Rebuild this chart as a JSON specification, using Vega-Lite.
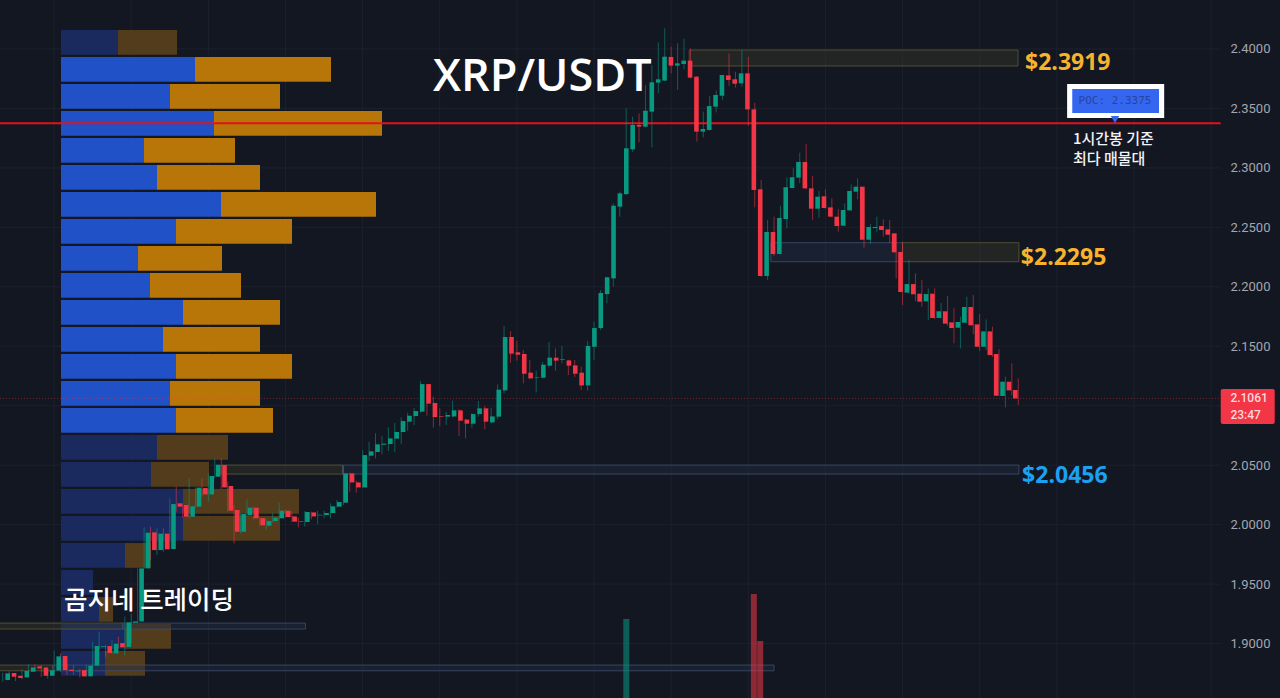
{
  "$schema": "https://vega.github.io/schema/vega-lite/v6.json",
  "description": "XRP/USDT hourly candles with volume profile",
  "width": 1280,
  "height": 698,
  "padding": 0,
  "autosize": {"type": "none"},
  "background": "#131722",
  "config": {"view": {"stroke": null}},
  "datasets": {
    "candles": [
      {"t":0,"o":1.8693,"h":1.8755,"l":1.8679,"c":1.8749},
      {"t":1,"o":1.8752,"h":1.8766,"l":1.8693,"c":1.8721},
      {"t":2,"o":1.8729,"h":1.8743,"l":1.8685,"c":1.8710},
      {"t":3,"o":1.8715,"h":1.8783,"l":1.8699,"c":1.8769},
      {"t":4,"o":1.8763,"h":1.8827,"l":1.8749,"c":1.8799},
      {"t":5,"o":1.8808,"h":1.8825,"l":1.8771,"c":1.8791},
      {"t":6,"o":1.8799,"h":1.8819,"l":1.8721,"c":1.8729},
      {"t":7,"o":1.8729,"h":1.8783,"l":1.8704,"c":1.8774},
      {"t":8,"o":1.8774,"h":1.8940,"l":1.8766,"c":1.8892},
      {"t":9,"o":1.8895,"h":1.8917,"l":1.8763,"c":1.8777},
      {"t":10,"o":1.8780,"h":1.8833,"l":1.8735,"c":1.8769},
      {"t":11,"o":1.8766,"h":1.8822,"l":1.8735,"c":1.8771},
      {"t":12,"o":1.8777,"h":1.8788,"l":1.8715,"c":1.8724},
      {"t":13,"o":1.8724,"h":1.8822,"l":1.8721,"c":1.8814},
      {"t":14,"o":1.8814,"h":1.9015,"l":1.8811,"c":1.8979},
      {"t":15,"o":1.8973,"h":1.9100,"l":1.8945,"c":1.8979},
      {"t":16,"o":1.8979,"h":1.8987,"l":1.8889,"c":1.8920},
      {"t":17,"o":1.8917,"h":1.9029,"l":1.8912,"c":1.8999},
      {"t":18,"o":1.9004,"h":1.9057,"l":1.8959,"c":1.8968},
      {"t":19,"o":1.8971,"h":1.9226,"l":1.8900,"c":1.9178},
      {"t":20,"o":1.9175,"h":1.9254,"l":1.9001,"c":1.9186},
      {"t":21,"o":1.9186,"h":1.9632,"l":1.9170,"c":1.9632},
      {"t":22,"o":1.9632,"h":1.9977,"l":1.9626,"c":1.9932},
      {"t":23,"o":1.9935,"h":1.9983,"l":1.9702,"c":1.9786},
      {"t":24,"o":1.9786,"h":1.9969,"l":1.9744,"c":1.9924},
      {"t":25,"o":1.9924,"h":1.9969,"l":1.9772,"c":1.9792},
      {"t":26,"o":1.9795,"h":2.0221,"l":1.9792,"c":2.0173},
      {"t":27,"o":2.0179,"h":2.0319,"l":2.0109,"c":2.0151},
      {"t":28,"o":2.0165,"h":2.0179,"l":2.0061,"c":2.0067},
      {"t":29,"o":2.0067,"h":2.0389,"l":2.0053,"c":2.0154},
      {"t":30,"o":2.0151,"h":2.0313,"l":2.0145,"c":2.0311},
      {"t":31,"o":2.0308,"h":2.0389,"l":2.0235,"c":2.0254},
      {"t":32,"o":2.0254,"h":2.0431,"l":2.0193,"c":2.0409},
      {"t":33,"o":2.0403,"h":2.0557,"l":2.0389,"c":2.0504},
      {"t":34,"o":2.0501,"h":2.0557,"l":2.0297,"c":2.0313},
      {"t":35,"o":2.0325,"h":2.0361,"l":2.0109,"c":2.0117},
      {"t":36,"o":2.0123,"h":2.0165,"l":1.9842,"c":1.9940},
      {"t":37,"o":1.9940,"h":2.0095,"l":1.9926,"c":2.0089},
      {"t":38,"o":2.0078,"h":2.0212,"l":2.0067,"c":2.0142},
      {"t":39,"o":2.0142,"h":2.0151,"l":2.0044,"c":2.0053},
      {"t":40,"o":2.0055,"h":2.0061,"l":1.9988,"c":1.9994},
      {"t":41,"o":1.9991,"h":2.0053,"l":1.9955,"c":2.0030},
      {"t":42,"o":2.0030,"h":2.0100,"l":2.0019,"c":2.0058},
      {"t":43,"o":2.0053,"h":2.0187,"l":2.0047,"c":2.0117},
      {"t":44,"o":2.0117,"h":2.0128,"l":2.0058,"c":2.0064},
      {"t":45,"o":2.0069,"h":2.0109,"l":2.0019,"c":2.0025},
      {"t":46,"o":2.0030,"h":2.0061,"l":1.9977,"c":2.0025},
      {"t":47,"o":2.0022,"h":2.0114,"l":1.9983,"c":2.0106},
      {"t":48,"o":2.0103,"h":2.0109,"l":2.0044,"c":2.0069},
      {"t":49,"o":2.0078,"h":2.0117,"l":2.0002,"c":2.0083},
      {"t":50,"o":2.0081,"h":2.0117,"l":2.0053,"c":2.0098},
      {"t":51,"o":2.0098,"h":2.0179,"l":2.0053,"c":2.0154},
      {"t":52,"o":2.0151,"h":2.0207,"l":2.0145,"c":2.0190},
      {"t":53,"o":2.0184,"h":2.0496,"l":2.0165,"c":2.0431},
      {"t":54,"o":2.0431,"h":2.0437,"l":2.0277,"c":2.0355},
      {"t":55,"o":2.0355,"h":2.0369,"l":2.0268,"c":2.0313},
      {"t":56,"o":2.0313,"h":2.0627,"l":2.0311,"c":2.0585},
      {"t":57,"o":2.0580,"h":2.0697,"l":2.0535,"c":2.0616},
      {"t":58,"o":2.0611,"h":2.0768,"l":2.0557,"c":2.0675},
      {"t":59,"o":2.0672,"h":2.0745,"l":2.0591,"c":2.0681},
      {"t":60,"o":2.0678,"h":2.0818,"l":2.0619,"c":2.0725},
      {"t":61,"o":2.0723,"h":2.0857,"l":2.0608,"c":2.0779},
      {"t":62,"o":2.0779,"h":2.0902,"l":2.0678,"c":2.0871},
      {"t":63,"o":2.0866,"h":2.0941,"l":2.0790,"c":2.0916},
      {"t":64,"o":2.0913,"h":2.0981,"l":2.0838,"c":2.0955},
      {"t":65,"o":2.0950,"h":2.1208,"l":2.0941,"c":2.1182},
      {"t":66,"o":2.1182,"h":2.1182,"l":2.0916,"c":2.1017},
      {"t":67,"o":2.1023,"h":2.1076,"l":2.0815,"c":2.0905},
      {"t":68,"o":2.0913,"h":2.0978,"l":2.0829,"c":2.0908},
      {"t":69,"o":2.0908,"h":2.0950,"l":2.0838,"c":2.0922},
      {"t":70,"o":2.0910,"h":2.1042,"l":2.0902,"c":2.0961},
      {"t":71,"o":2.0961,"h":2.0969,"l":2.0745,"c":2.0874},
      {"t":72,"o":2.0883,"h":2.0888,"l":2.0725,"c":2.0849},
      {"t":73,"o":2.0849,"h":2.0936,"l":2.0815,"c":2.0930},
      {"t":74,"o":2.0930,"h":2.1040,"l":2.0908,"c":2.0978},
      {"t":75,"o":2.0978,"h":2.0997,"l":2.0801,"c":2.0866},
      {"t":76,"o":2.0860,"h":2.0983,"l":2.0852,"c":2.0910},
      {"t":77,"o":2.0908,"h":2.1180,"l":2.0885,"c":2.1135},
      {"t":78,"o":2.1129,"h":2.1670,"l":2.1104,"c":2.1578},
      {"t":79,"o":2.1578,"h":2.1628,"l":2.1362,"c":2.1438},
      {"t":80,"o":2.1449,"h":2.1547,"l":2.1379,"c":2.1429},
      {"t":81,"o":2.1435,"h":2.1468,"l":2.1188,"c":2.1269},
      {"t":82,"o":2.1278,"h":2.1384,"l":2.1227,"c":2.1230},
      {"t":83,"o":2.1236,"h":2.1295,"l":2.1112,"c":2.1241},
      {"t":84,"o":2.1236,"h":2.1370,"l":2.1230,"c":2.1345},
      {"t":85,"o":2.1337,"h":2.1536,"l":2.1323,"c":2.1404},
      {"t":86,"o":2.1404,"h":2.1482,"l":2.1295,"c":2.1379},
      {"t":87,"o":2.1387,"h":2.1502,"l":2.1356,"c":2.1393},
      {"t":88,"o":2.1381,"h":2.1387,"l":2.1258,"c":2.1337},
      {"t":89,"o":2.1339,"h":2.1384,"l":2.1241,"c":2.1269},
      {"t":90,"o":2.1278,"h":2.1328,"l":2.1132,"c":2.1171},
      {"t":91,"o":2.1171,"h":2.1544,"l":2.1126,"c":2.1502},
      {"t":92,"o":2.1496,"h":2.1707,"l":2.1384,"c":2.1653},
      {"t":93,"o":2.1653,"h":2.1973,"l":2.1637,"c":2.1948},
      {"t":94,"o":2.1939,"h":2.2085,"l":2.1861,"c":2.2080},
      {"t":95,"o":2.2071,"h":2.2702,"l":2.2001,"c":2.2682},
      {"t":96,"o":2.2674,"h":2.2800,"l":2.2590,"c":2.2786},
      {"t":97,"o":2.2780,"h":2.3501,"l":2.2772,"c":2.3165},
      {"t":98,"o":2.3156,"h":2.3431,"l":2.3136,"c":2.3361},
      {"t":99,"o":2.3361,"h":2.3459,"l":2.3215,"c":2.3347},
      {"t":100,"o":2.3347,"h":2.3697,"l":2.3341,"c":2.3481},
      {"t":101,"o":2.3473,"h":2.3865,"l":2.3173,"c":2.3720},
      {"t":102,"o":2.3717,"h":2.4056,"l":2.3627,"c":2.3745},
      {"t":103,"o":2.3734,"h":2.4174,"l":2.3731,"c":2.3935},
      {"t":104,"o":2.3933,"h":2.4020,"l":2.3795,"c":2.3860},
      {"t":105,"o":2.3860,"h":2.4048,"l":2.3655,"c":2.3879},
      {"t":106,"o":2.3874,"h":2.4084,"l":2.3829,"c":2.3902},
      {"t":107,"o":2.3902,"h":2.4005,"l":2.3753,"c":2.3759},
      {"t":108,"o":2.3767,"h":2.3773,"l":2.3221,"c":2.3305},
      {"t":109,"o":2.3305,"h":2.3473,"l":2.3257,"c":2.3327},
      {"t":110,"o":2.3319,"h":2.3605,"l":2.3313,"c":2.3520},
      {"t":111,"o":2.3515,"h":2.3649,"l":2.3467,"c":2.3613},
      {"t":112,"o":2.3607,"h":2.3781,"l":2.3571,"c":2.3781},
      {"t":113,"o":2.3778,"h":2.3963,"l":2.3689,"c":2.3739},
      {"t":114,"o":2.3745,"h":2.3809,"l":2.3675,"c":2.3708},
      {"t":115,"o":2.3711,"h":2.3992,"l":2.3683,"c":2.3795},
      {"t":116,"o":2.3795,"h":2.3935,"l":2.3352,"c":2.3492},
      {"t":117,"o":2.3492,"h":2.3549,"l":2.2668,"c":2.2814},
      {"t":118,"o":2.2820,"h":2.2898,"l":2.2085,"c":2.2091},
      {"t":119,"o":2.2091,"h":2.2562,"l":2.2057,"c":2.2461},
      {"t":120,"o":2.2461,"h":2.2590,"l":2.2259,"c":2.2276},
      {"t":121,"o":2.2276,"h":2.2682,"l":2.2273,"c":2.2579},
      {"t":122,"o":2.2570,"h":2.2921,"l":2.2492,"c":2.2837},
      {"t":123,"o":2.2831,"h":2.3002,"l":2.2828,"c":2.2921},
      {"t":124,"o":2.2918,"h":2.3128,"l":2.2870,"c":2.3050},
      {"t":125,"o":2.3050,"h":2.3201,"l":2.2820,"c":2.2828},
      {"t":126,"o":2.2828,"h":2.2932,"l":2.2562,"c":2.2657},
      {"t":127,"o":2.2657,"h":2.2808,"l":2.2581,"c":2.2758},
      {"t":128,"o":2.2761,"h":2.2820,"l":2.2657,"c":2.2663},
      {"t":129,"o":2.2668,"h":2.2744,"l":2.2584,"c":2.2590},
      {"t":130,"o":2.2590,"h":2.2654,"l":2.2464,"c":2.2511},
      {"t":131,"o":2.2514,"h":2.2702,"l":2.2511,"c":2.2646},
      {"t":132,"o":2.2643,"h":2.2862,"l":2.2640,"c":2.2806},
      {"t":133,"o":2.2800,"h":2.2912,"l":2.2736,"c":2.2842},
      {"t":134,"o":2.2842,"h":2.2842,"l":2.2329,"c":2.2396},
      {"t":135,"o":2.2396,"h":2.2528,"l":2.2360,"c":2.2503},
      {"t":136,"o":2.2494,"h":2.2590,"l":2.2458,"c":2.2503},
      {"t":137,"o":2.2511,"h":2.2567,"l":2.2422,"c":2.2478},
      {"t":138,"o":2.2483,"h":2.2562,"l":2.2371,"c":2.2438},
      {"t":139,"o":2.2450,"h":2.2450,"l":2.2071,"c":2.2290},
      {"t":140,"o":2.2293,"h":2.2380,"l":2.1847,"c":2.1956},
      {"t":141,"o":2.1951,"h":2.2225,"l":2.1945,"c":2.2023},
      {"t":142,"o":2.2023,"h":2.2113,"l":2.1880,"c":2.1937},
      {"t":143,"o":2.1942,"h":2.2057,"l":2.1833,"c":2.1875},
      {"t":144,"o":2.1878,"h":2.1987,"l":2.1721,"c":2.1939},
      {"t":145,"o":2.1942,"h":2.1987,"l":2.1729,"c":2.1738},
      {"t":146,"o":2.1738,"h":2.1866,"l":2.1732,"c":2.1794},
      {"t":147,"o":2.1794,"h":2.1922,"l":2.1673,"c":2.1690},
      {"t":148,"o":2.1701,"h":2.1824,"l":2.1524,"c":2.1653},
      {"t":149,"o":2.1656,"h":2.1749,"l":2.1482,"c":2.1704},
      {"t":150,"o":2.1698,"h":2.1917,"l":2.1693,"c":2.1830},
      {"t":151,"o":2.1830,"h":2.1931,"l":2.1603,"c":2.1676},
      {"t":152,"o":2.1684,"h":2.1771,"l":2.1460,"c":2.1496},
      {"t":153,"o":2.1496,"h":2.1726,"l":2.1468,"c":2.1625},
      {"t":154,"o":2.1625,"h":2.1665,"l":2.1412,"c":2.1426},
      {"t":155,"o":2.1435,"h":2.1474,"l":2.1082,"c":2.1084},
      {"t":156,"o":2.1082,"h":2.1244,"l":2.0986,"c":2.1202},
      {"t":157,"o":2.1202,"h":2.1356,"l":2.1087,"c":2.1129},
      {"t":158,"o":2.1132,"h":2.1230,"l":2.1006,"c":2.1061}
    ],
    "profile": [
      {"lo":2.3952,"hi":2.4160,"start":0,"buy":57,"total":116,"inva":false},
      {"lo":2.3725,"hi":2.3933,"start":0,"buy":134,"total":270,"inva":true},
      {"lo":2.3498,"hi":2.3705,"start":0,"buy":109,"total":219,"inva":true},
      {"lo":2.3271,"hi":2.3478,"start":0,"buy":153,"total":321,"inva":true},
      {"lo":2.3044,"hi":2.3251,"start":0,"buy":83,"total":174,"inva":true},
      {"lo":2.2817,"hi":2.3024,"start":0,"buy":96,"total":199,"inva":true},
      {"lo":2.2589,"hi":2.2797,"start":0,"buy":160,"total":315,"inva":true},
      {"lo":2.2362,"hi":2.2570,"start":0,"buy":115,"total":231,"inva":true},
      {"lo":2.2135,"hi":2.2343,"start":0,"buy":77,"total":161,"inva":true},
      {"lo":2.1908,"hi":2.2116,"start":0,"buy":89,"total":180,"inva":true},
      {"lo":2.1681,"hi":2.1889,"start":0,"buy":122,"total":219,"inva":true},
      {"lo":2.1454,"hi":2.1662,"start":0,"buy":102,"total":199,"inva":true},
      {"lo":2.1227,"hi":2.1435,"start":0,"buy":115,"total":231,"inva":true},
      {"lo":2.1000,"hi":2.1208,"start":0,"buy":109,"total":199,"inva":true},
      {"lo":2.0773,"hi":2.0981,"start":0,"buy":115,"total":212,"inva":true},
      {"lo":2.0546,"hi":2.0753,"start":0,"buy":96,"total":167,"inva":false},
      {"lo":2.0319,"hi":2.0526,"start":0,"buy":90,"total":148,"inva":false},
      {"lo":2.0091,"hi":2.0299,"start":0,"buy":122,"total":238,"inva":false},
      {"lo":1.9864,"hi":2.0072,"start":0,"buy":122,"total":219,"inva":false},
      {"lo":1.9637,"hi":1.9845,"start":0,"buy":64,"total":90,"inva":false},
      {"lo":1.9410,"hi":1.9618,"start":0,"buy":32,"total":32,"inva":false},
      {"lo":1.9183,"hi":1.9391,"start":0,"buy":38,"total":52,"inva":false},
      {"lo":1.8956,"hi":1.9164,"start":0,"buy":64,"total":110,"inva":false},
      {"lo":1.8729,"hi":1.8937,"start":0,"buy":44,"total":84,"inva":false}
    ],
    "zones": [
      {"t0":106.8,"t1":157.96,"lo":2.3857,"hi":2.3991,"kind":"supply"},
      {"t0":119.5,"t1":140.0,"lo":2.2211,"hi":2.2371,"kind":"demand"},
      {"t0":140.0,"t1":158.1,"lo":2.2211,"hi":2.2371,"kind":"supply"},
      {"t0":33.96,"t1":52.9,"lo":2.0425,"hi":2.0501,"kind":"supply"},
      {"t0":52.9,"t1":158.1,"lo":2.0425,"hi":2.0501,"kind":"demand"},
      {"t0":-2,"t1":18.7,"lo":1.9122,"hi":1.9172,"kind":"supply"},
      {"t0":18.7,"t1":47.1,"lo":1.9122,"hi":1.9172,"kind":"demand"},
      {"t0":-2,"t1":7.8,"lo":1.8771,"hi":1.8819,"kind":"supply"},
      {"t0":7.8,"t1":120.0,"lo":1.8771,"hi":1.8819,"kind":"demand"}
    ],
    "levels": [
      {"p":1.90,"t0":-0.42,"t1":189.5},
      {"p":1.95,"t0":-0.42,"t1":189.5},
      {"p":2.00,"t0":-0.42,"t1":189.5},
      {"p":2.05,"t0":-0.42,"t1":189.5},
      {"p":2.10,"t0":-0.42,"t1":189.5},
      {"p":2.15,"t0":-0.42,"t1":189.5},
      {"p":2.20,"t0":-0.42,"t1":189.5},
      {"p":2.25,"t0":-0.42,"t1":189.5},
      {"p":2.30,"t0":-0.42,"t1":189.5},
      {"p":2.35,"t0":-0.42,"t1":189.5},
      {"p":2.40,"t0":-0.42,"t1":189.5}
    ],
    "sessions": [
      {"t":8,"lo":1.8542,"hi":2.4412},{"t":20,"lo":1.8542,"hi":2.4412},{"t":32,"lo":1.8542,"hi":2.4412},{"t":44,"lo":1.8542,"hi":2.4412},
      {"t":56,"lo":1.8542,"hi":2.4412},{"t":68,"lo":1.8542,"hi":2.4412},{"t":80,"lo":1.8542,"hi":2.4412},{"t":92,"lo":1.8542,"hi":2.4412},
      {"t":104,"lo":1.8542,"hi":2.4412},{"t":116,"lo":1.8542,"hi":2.4412},{"t":128,"lo":1.8542,"hi":2.4412},{"t":140,"lo":1.8542,"hi":2.4412},
      {"t":152,"lo":1.8542,"hi":2.4412},{"t":164,"lo":1.8542,"hi":2.4412},{"t":176,"lo":1.8542,"hi":2.4412},{"t":188,"lo":1.8542,"hi":2.4412}
    ],
    "volume": [
      {"t":97,"vol":79,"side":"up"},
      {"t":117,"vol":104,"side":"down"},
      {"t":118,"vol":57,"side":"down"}
    ]
  },
  "resolve": {"scale": {"x": "independent", "y": "independent"}},
  "layer": [
    {
      "data": {"name": "levels"},
      "mark": {"type": "rule", "color": "#1c212d", "strokeWidth": 1},
      "encoding": {
        "x": {"field": "t0", "type": "quantitative", "scale": {"domain": [-0.42, 198.72], "nice": false, "zero": false}, "axis": null},
        "x2": {"field": "t1"},
        "y": {"field": "p", "type": "quantitative", "scale": {"domain": [1.8542, 2.4412], "nice": false, "zero": false}, "axis": null}
      }
    },
    {
      "data": {"name": "sessions"},
      "mark": {"type": "rule", "color": "#1c212d", "strokeWidth": 1},
      "encoding": {
        "x": {"field": "t", "type": "quantitative", "scale": {"domain": [-0.42, 198.72], "nice": false, "zero": false}, "axis": null},
        "y": {"field": "lo", "type": "quantitative", "scale": {"domain": [1.8542, 2.4412], "nice": false, "zero": false}, "axis": null},
        "y2": {"field": "hi"}
      }
    },
    {
      "data": {"name": "profile"},
      "mark": {"type": "rect"},
      "encoding": {
        "x": {"field": "start", "type": "quantitative", "scale": {"domain": [-61, 1219], "nice": false, "zero": false}, "axis": null},
        "x2": {"field": "buy"},
        "y": {"field": "lo", "type": "quantitative", "scale": {"domain": [1.8542, 2.4412], "nice": false, "zero": false}, "axis": null},
        "y2": {"field": "hi"},
        "color": {"condition": {"test": "datum.inva", "value": "#2051c6"}, "value": "#1a2a5f"}
      }
    },
    {
      "data": {"name": "profile"},
      "mark": {"type": "rect"},
      "encoding": {
        "x": {"field": "buy", "type": "quantitative", "scale": {"domain": [-61, 1219], "nice": false, "zero": false}, "axis": null},
        "x2": {"field": "total"},
        "y": {"field": "lo", "type": "quantitative", "scale": {"domain": [1.8542, 2.4412], "nice": false, "zero": false}, "axis": null},
        "y2": {"field": "hi"},
        "color": {"condition": {"test": "datum.inva", "value": "#b87508"}, "value": "#533c1c"}
      }
    },
    {
      "data": {"name": "zones"},
      "mark": {"type": "rect", "strokeWidth": 0.8, "fillOpacity": 0.42},
      "encoding": {
        "x": {"field": "t0", "type": "quantitative", "scale": {"domain": [-0.42, 198.72], "nice": false, "zero": false}, "axis": null},
        "x2": {"field": "t1"},
        "y": {"field": "lo", "type": "quantitative", "scale": {"domain": [1.8542, 2.4412], "nice": false, "zero": false}, "axis": null},
        "y2": {"field": "hi"},
        "fill": {"field": "kind", "type": "nominal", "scale": {"domain": ["supply", "demand"], "range": ["#3a3a2a", "#222f48"]}, "legend": null},
        "stroke": {"field": "kind", "type": "nominal", "scale": {"domain": ["supply", "demand"], "range": ["#5d5a38", "#3f4f6e"]}, "legend": null}
      }
    },
    {
      "data": {"values": [{"p": 2.1061, "t0": -0.42, "t1": 189.5}]},
      "mark": {"type": "rule", "color": "#f23645", "opacity": 0.4, "strokeWidth": 1, "strokeDash": [1, 2]},
      "encoding": {
        "x": {"field": "t0", "type": "quantitative", "scale": {"domain": [-0.42, 198.72], "nice": false, "zero": false}, "axis": null},
        "x2": {"field": "t1"},
        "y": {"field": "p", "type": "quantitative", "scale": {"domain": [1.8542, 2.4412], "nice": false, "zero": false}, "axis": null}
      }
    },
    {
      "data": {"values": [{"p": 2.3375, "t0": -0.42, "t1": 189.5}]},
      "mark": {"type": "rule", "color": "#e3121c", "strokeWidth": 2},
      "encoding": {
        "x": {"field": "t0", "type": "quantitative", "scale": {"domain": [-0.42, 198.72], "nice": false, "zero": false}, "axis": null},
        "x2": {"field": "t1"},
        "y": {"field": "p", "type": "quantitative", "scale": {"domain": [1.8542, 2.4412], "nice": false, "zero": false}, "axis": null}
      }
    },
    {
      "data": {"name": "volume"},
      "mark": {"type": "bar", "size": 6, "opacity": 0.55},
      "encoding": {
        "x": {"field": "t", "type": "quantitative", "scale": {"domain": [-0.42, 198.72], "nice": false, "zero": false}, "axis": null},
        "y": {"field": "vol", "type": "quantitative", "stack": null, "scale": {"domain": [0, 698], "nice": false}, "axis": null},
        "color": {"condition": {"test": "datum.side === 'up'", "value": "#089981"}, "value": "#f23645"}
      }
    },
    {
      "data": {"name": "candles"},
      "mark": {"type": "rule", "strokeWidth": 1, "opacity": 0.55},
      "encoding": {
        "x": {"field": "t", "type": "quantitative", "scale": {"domain": [-0.42, 198.72], "nice": false, "zero": false}, "axis": null},
        "y": {
          "field": "l",
          "type": "quantitative",
          "scale": {"domain": [1.8542, 2.4412], "nice": false, "zero": false},
          "axis": {
            "orient": "right",
            "title": null,
            "values": [1.9, 1.95, 2.0, 2.05, 2.1, 2.15, 2.2, 2.25, 2.3, 2.35, 2.4],
            "format": ".4f",
            "grid": false,
            "domain": false,
            "ticks": false,
            "labelPadding": -50,
            "labelAlign": "left",
            "labelFont": "Roboto",
            "labelFontSize": 13,
            "labelColor": "#a3a6af"
          }
        },
        "y2": {"field": "h"},
        "color": {"condition": {"test": "datum.c >= datum.o", "value": "#089981"}, "value": "#f23645"}
      }
    },
    {
      "data": {"name": "candles"},
      "mark": {"type": "bar", "size": 4.6},
      "encoding": {
        "x": {"field": "t", "type": "quantitative", "scale": {"domain": [-0.42, 198.72], "nice": false, "zero": false}, "axis": null},
        "y": {"field": "o", "type": "quantitative", "scale": {"domain": [1.8542, 2.4412], "nice": false, "zero": false}, "axis": null},
        "y2": {"field": "c"},
        "color": {"condition": {"test": "datum.c >= datum.o", "value": "#089981"}, "value": "#f23645"}
      }
    },
    {
      "data": {"values": [{"t0": 189.5, "t1": 197.9, "lo": 2.0846, "hi": 2.1140}]},
      "mark": {"type": "rect", "color": "#f23645", "cornerRadius": 2},
      "encoding": {
        "x": {"field": "t0", "type": "quantitative", "scale": {"domain": [-0.42, 198.72], "nice": false, "zero": false}, "axis": null},
        "x2": {"field": "t1"},
        "y": {"field": "lo", "type": "quantitative", "scale": {"domain": [1.8542, 2.4412], "nice": false, "zero": false}, "axis": null},
        "y2": {"field": "hi"}
      }
    },
    {
      "data": {"values": [{"t": 191.0, "p": 2.1065, "label": "2.1061"}, {"t": 191.0, "p": 2.0922, "label": "23:47"}]},
      "mark": {"type": "text", "font": "Roboto", "fontSize": 12, "fontWeight": 500, "color": "#ffd9dd", "align": "left", "baseline": "middle"},
      "encoding": {
        "x": {"field": "t", "type": "quantitative", "scale": {"domain": [-0.42, 198.72], "nice": false, "zero": false}, "axis": null},
        "y": {"field": "p", "type": "quantitative", "scale": {"domain": [1.8542, 2.4412], "nice": false, "zero": false}, "axis": null},
        "text": {"field": "label"}
      }
    },
    {
      "data": {"values": [{"t0": 165.6, "t1": 180.7, "lo": 2.3420, "hi": 2.3705}]},
      "mark": {"type": "rect", "color": "#ffffff"},
      "encoding": {
        "x": {"field": "t0", "type": "quantitative", "scale": {"domain": [-0.42, 198.72], "nice": false, "zero": false}, "axis": null},
        "x2": {"field": "t1"},
        "y": {"field": "lo", "type": "quantitative", "scale": {"domain": [1.8542, 2.4412], "nice": false, "zero": false}, "axis": null},
        "y2": {"field": "hi"}
      }
    },
    {
      "data": {"values": [{"t0": 166.4, "t1": 179.9, "lo": 2.3462, "hi": 2.3663}]},
      "mark": {"type": "rect", "color": "#3566f0"},
      "encoding": {
        "x": {"field": "t0", "type": "quantitative", "scale": {"domain": [-0.42, 198.72], "nice": false, "zero": false}, "axis": null},
        "x2": {"field": "t1"},
        "y": {"field": "lo", "type": "quantitative", "scale": {"domain": [1.8542, 2.4412], "nice": false, "zero": false}, "axis": null},
        "y2": {"field": "hi"}
      }
    },
    {
      "data": {"values": [{"t": 173.05, "p": 2.3405}]},
      "mark": {"type": "point", "shape": "triangle-down", "filled": true, "size": 70, "color": "#3566f0", "opacity": 1},
      "encoding": {
        "x": {"field": "t", "type": "quantitative", "scale": {"domain": [-0.42, 198.72], "nice": false, "zero": false}, "axis": null},
        "y": {"field": "p", "type": "quantitative", "scale": {"domain": [1.8542, 2.4412], "nice": false, "zero": false}, "axis": null}
      }
    },
    {
      "data": {"values": [{"t": 173.05, "p": 2.3563, "label": "POC: 2.3375"}]},
      "mark": {"type": "text", "font": "DejaVu Sans Mono", "fontSize": 11, "color": "#27459f", "align": "center", "baseline": "middle"},
      "encoding": {
        "x": {"field": "t", "type": "quantitative", "scale": {"domain": [-0.42, 198.72], "nice": false, "zero": false}, "axis": null},
        "y": {"field": "p", "type": "quantitative", "scale": {"domain": [1.8542, 2.4412], "nice": false, "zero": false}, "axis": null},
        "text": {"field": "label"}
      }
    },
    {
      "data": {"values": [{"t": 166.5, "p": 2.3243, "label": "1시간봉 기준"}, {"t": 166.5, "p": 2.3075, "label": "최다 매물대"}]},
      "mark": {"type": "text", "font": "Noto Sans CJK KR", "fontSize": 15, "fontWeight": 500, "color": "#f2f3f5", "align": "left", "baseline": "middle"},
      "encoding": {
        "x": {"field": "t", "type": "quantitative", "scale": {"domain": [-0.42, 198.72], "nice": false, "zero": false}, "axis": null},
        "y": {"field": "p", "type": "quantitative", "scale": {"domain": [1.8542, 2.4412], "nice": false, "zero": false}, "axis": null},
        "text": {"field": "label"}
      }
    },
    {
      "data": {"values": [{"t": 159.05, "p": 2.3878, "label": "$2.3919"}, {"t": 158.4, "p": 2.2242, "label": "$2.2295"}]},
      "mark": {"type": "text", "font": "Open Sans", "fontSize": 23, "fontWeight": 700, "color": "#f7b32b", "align": "left", "baseline": "middle"},
      "encoding": {
        "x": {"field": "t", "type": "quantitative", "scale": {"domain": [-0.42, 198.72], "nice": false, "zero": false}, "axis": null},
        "y": {"field": "p", "type": "quantitative", "scale": {"domain": [1.8542, 2.4412], "nice": false, "zero": false}, "axis": null},
        "text": {"field": "label"}
      }
    },
    {
      "data": {"values": [{"t": 158.6, "p": 2.0413, "label": "$2.0456"}]},
      "mark": {"type": "text", "font": "Open Sans", "fontSize": 23, "fontWeight": 700, "color": "#1ba1f2", "align": "left", "baseline": "middle"},
      "encoding": {
        "x": {"field": "t", "type": "quantitative", "scale": {"domain": [-0.42, 198.72], "nice": false, "zero": false}, "axis": null},
        "y": {"field": "p", "type": "quantitative", "scale": {"domain": [1.8542, 2.4412], "nice": false, "zero": false}, "axis": null},
        "text": {"field": "label"}
      }
    },
    {
      "data": {"values": [{"t": 66.95, "p": 2.3764, "label": "XRP/USDT"}]},
      "mark": {"type": "text", "font": "Open Sans", "fontSize": 45, "fontWeight": 600, "color": "#ffffff", "align": "left", "baseline": "middle"},
      "encoding": {
        "x": {"field": "t", "type": "quantitative", "scale": {"domain": [-0.42, 198.72], "nice": false, "zero": false}, "axis": null},
        "y": {"field": "p", "type": "quantitative", "scale": {"domain": [1.8542, 2.4412], "nice": false, "zero": false}, "axis": null},
        "text": {"field": "label"}
      }
    },
    {
      "data": {"values": [{"t": 9.54, "p": 1.9357, "label": "곰지네 트레이딩"}]},
      "mark": {"type": "text", "font": "Noto Sans CJK KR", "fontSize": 25.5, "fontWeight": 500, "color": "#ffffff", "align": "left", "baseline": "middle"},
      "encoding": {
        "x": {"field": "t", "type": "quantitative", "scale": {"domain": [-0.42, 198.72], "nice": false, "zero": false}, "axis": null},
        "y": {"field": "p", "type": "quantitative", "scale": {"domain": [1.8542, 2.4412], "nice": false, "zero": false}, "axis": null},
        "text": {"field": "label"}
      }
    }
  ]
}
